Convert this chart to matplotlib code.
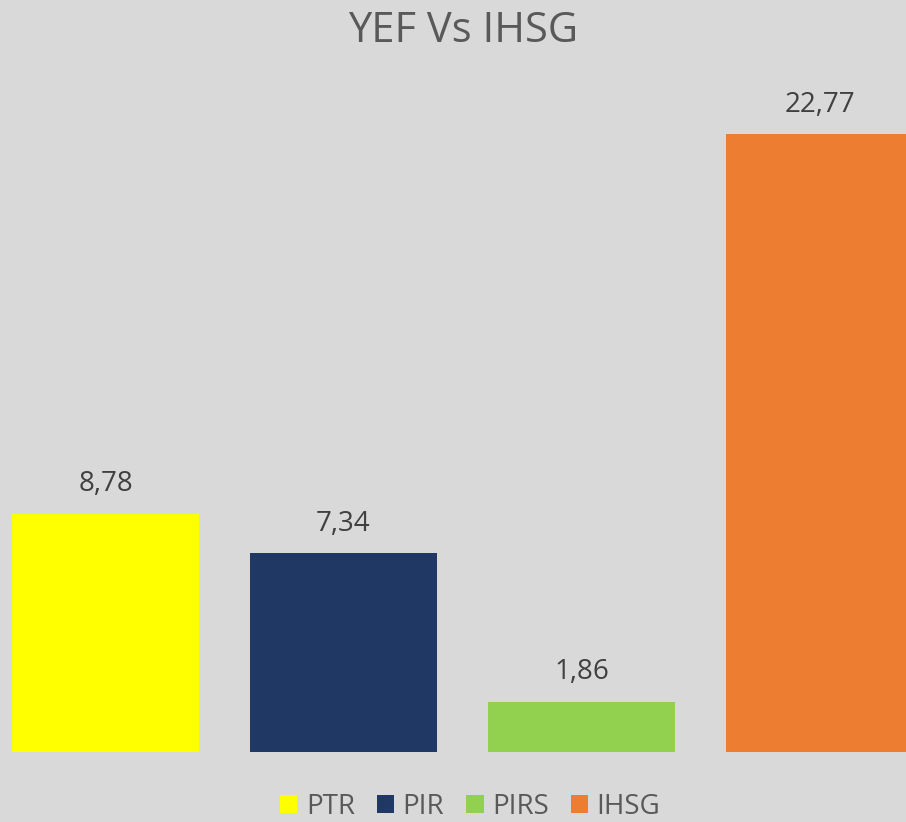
import matplotlib
matplotlib.use("Agg")
import matplotlib.pyplot as plt
from matplotlib.patches import Patch

# Data
categories = ["PTR", "PIR", "PIRS", "IHSG"]
values = [8.78, 7.34, 1.86, 22.77]
labels = ["8,78", "7,34", "1,86", "22,77"]
colors = ["#FFFF00", "#1F3864", "#92D050", "#ED7D31"]

plt.rcParams['font.family'] = ['Open Sans', 'DejaVu Sans']
bg = "#D9D9D9"

fig = plt.figure(figsize=(9.06, 8.22), dpi=100, facecolor=bg)
ax = fig.add_axes([0, 1 - 752 / 822, 1, (752 - 60) / 822])
ax.set_facecolor(bg)

x = list(range(len(categories)))
bars = ax.bar(x, values, width=187 / 238, color=colors)

# value labels above the bars
for xi, v, lab in zip(x, values, labels):
    ax.annotate(lab, (xi, v), xytext=(0, 11), textcoords="offset points",
                ha="center", va="bottom", fontsize=20, color="#404040")

ax.set_xlim(-105.5 / 238, (906 - 105.5) / 238)
ax.set_ylim(0, (752 - 60) / 27.14)
ax.axis("off")

fig.text(0.511, 0.962, "YEF Vs IHSG", ha="center", va="center",
         fontsize=30, color="#595959")

handles = [Patch(facecolor=c, label=n) for c, n in zip(colors, categories)]
fig.legend(handles=handles, loc="center", bbox_to_anchor=(0.519, 0.018),
           ncol=4, frameon=False, fontsize=20, labelcolor="#595959",
           handlelength=0.62, handleheight=0.62, handletextpad=0.3,
           columnspacing=0.8)

fig.savefig("out.png", dpi=100, facecolor=bg)
